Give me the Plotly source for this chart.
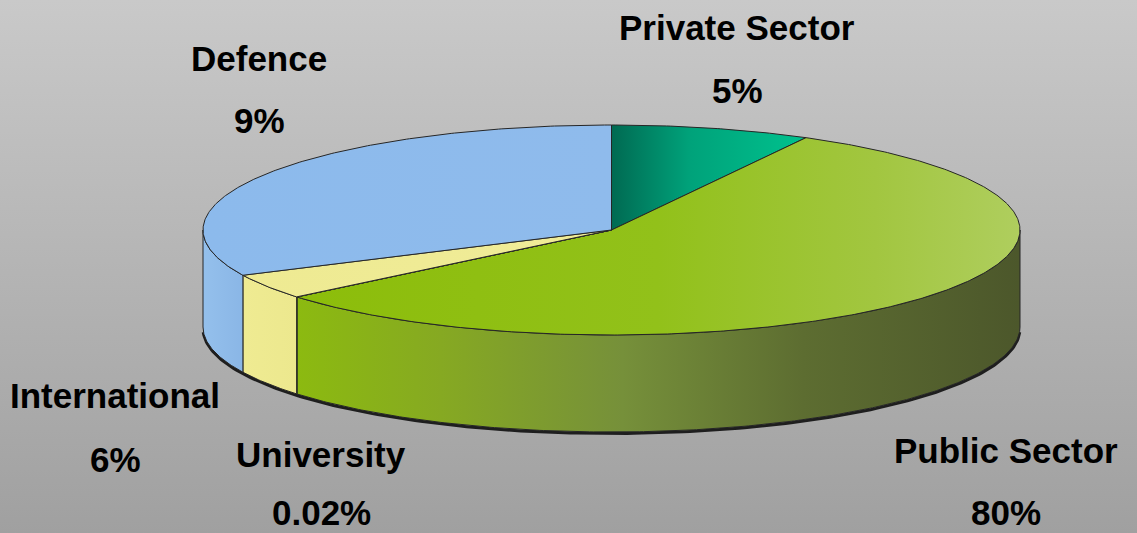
import numpy as np
import plotly.graph_objects as go

# ---------------- data ----------------
categories = ["Private Sector", "Public Sector", "University", "International", "Defence"]
label_pct = ["5%", "80%", "0.02%", "6%", "9%"]
# slice sizes as drawn in the picture (% of the circle, clockwise from 12 o'clock)
slice_share = [7.9, 56.1, 0.02, 3.9, 32.1]

# ---------------- styling ----------------
W, H = 1137, 533
CX, CY, RX, RY, DEPTH = 611.5, 230.0, 408.5, 105.0, 97.0

top_scales = {
    "Private Sector": [[0, "#006a52"], [0.4, "#00a27a"], [1, "#00c28e"]],
    "Public Sector": [[0, "#8cbd0a"], [0.5, "#92c11a"], [0.8, "#a2c640"], [1, "#afce5e"]],
    "University": [[0, "#eeea92"], [1, "#eeea92"]],
    "International": [[0, "#eeea92"], [1, "#f0ec98"]],
    "Defence": [[0, "#8cbaec"], [1, "#8fbbec"]],
}
side_scales = {
    "Private Sector": [[0, "#00a57c"], [1, "#00a57c"]],
    "Public Sector": [[0, "#8cba10"], [0.2, "#86a922"], [0.45, "#76903a"],
                      [0.7, "#5d6d31"], [1, "#4c572b"]],
    "University": [[0, "#eeea90"], [1, "#eeea90"]],
    "International": [[0, "#efeb92"], [1, "#ece88e"]],
    "Defence": [[0, "#94c0ec"], [1, "#8ab6e6"]],
}
label_pos = {  # (x, y of name, y of percentage) in page pixels
    "Private Sector": (737, 27, 90),
    "Public Sector": (1006, 450, 512),
    "University": (321, 454, 512),
    "International": (115, 395, 459),
    "Defence": (259, 58, 120),
}
OUTLINE = "#262626"


def pt(theta_deg, dy=0.0):
    t = np.radians(theta_deg)
    return CX + RX * np.sin(t), CY - RY * np.cos(t) + dy


fig = go.Figure()

# background gradient
fig.add_trace(go.Scatter(
    x=[0, W, W, 0, 0], y=[0, 0, H, H, 0], mode="lines", fill="toself",
    line=dict(width=0), hoverinfo="skip", showlegend=False,
    fillgradient=dict(type="vertical", start=0, stop=H,
                      colorscale=[[0, "#c9c9c9"], [1, "#a0a0a0"]]),
))

shares = np.array(slice_share, dtype=float)
angles = np.concatenate([[0], np.cumsum(shares / shares.sum() * 360.0)])

# bottom shadow along the rim
th = np.linspace(92, 268, 200)
sx, sy = pt(th, DEPTH + 1.5)
fig.add_trace(go.Scatter(x=sx, y=sy, mode="lines", line=dict(color="#1e1e1e", width=3),
                         hoverinfo="skip", showlegend=False))

# side walls (front half: 90..270 degrees)
for name, a, b in zip(categories, angles[:-1], angles[1:]):
    lo, hi = max(a, 90), min(b, 270)
    if hi - lo <= 0.05:
        continue
    th = np.linspace(lo, hi, max(int((hi - lo) * 2), 4))
    tx, ty = pt(th)
    bx, by = pt(th[::-1], DEPTH)
    xs = np.concatenate([tx, bx, tx[:1]])
    ys = np.concatenate([ty, by, ty[:1]])
    fig.add_trace(go.Scatter(
        x=xs, y=ys, mode="lines", fill="toself",
        line=dict(color=OUTLINE, width=1), hoverinfo="skip", showlegend=False,
        fillgradient=dict(type="horizontal", start=float(xs.min()), stop=float(xs.max()),
                          colorscale=side_scales[name]),
    ))

# top faces
for name, a, b in zip(categories, angles[:-1], angles[1:]):
    if b - a <= 0.05:
        continue
    th = np.linspace(a, b, max(int((b - a) * 2), 4))
    ax_, ay_ = pt(th)
    xs = np.concatenate([[CX], ax_, [CX]])
    ys = np.concatenate([[CY], ay_, [CY]])
    fig.add_trace(go.Scatter(
        x=xs, y=ys, mode="lines", fill="toself",
        line=dict(color=OUTLINE, width=1), hoverinfo="skip", showlegend=False,
        fillgradient=dict(type="horizontal", start=float(xs.min()), stop=float(xs.max()),
                          colorscale=top_scales[name]),
    ))

# labels
font = dict(family="Liberation Sans, Arial, sans-serif", size=35, color="#000000")
for name, pct in zip(categories, label_pct):
    x, y1, y2 = label_pos[name]
    for txt, y in ((name, y1), (pct, y2)):
        fig.add_annotation(x=x, y=y, xref="x", yref="y", text=f"<b>{txt}</b>",
                           showarrow=False, font=font, xanchor="center", yanchor="middle",
                           borderpad=0)

fig.update_layout(
    width=W, height=H, margin=dict(l=0, r=0, t=0, b=0),
    paper_bgcolor="#b4b4b4", plot_bgcolor="rgba(0,0,0,0)",
    xaxis=dict(range=[0, W], visible=False, fixedrange=True),
    yaxis=dict(range=[H, 0], visible=False, fixedrange=True),
    showlegend=False,
)
fig.write_html("out.html")
